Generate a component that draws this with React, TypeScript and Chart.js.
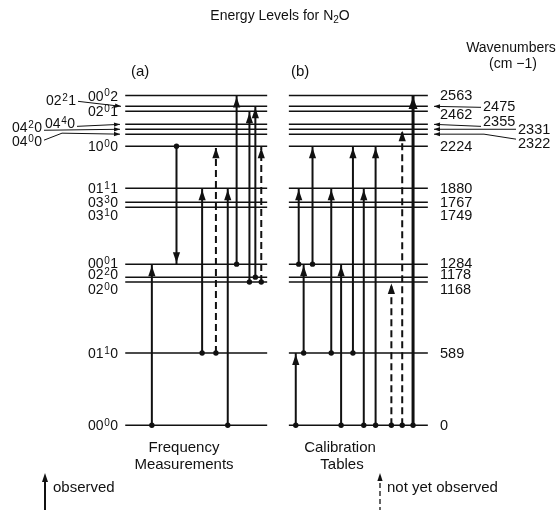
import React, { useEffect, useRef } from "react";
import { Chart, registerables } from "chart.js";
Chart.register(...registerables);

// ---------------- data ----------------
const levelEnergies = [0, 589, 1168, 1178, 1284, 1749, 1767, 1880, 2224, 2322, 2331, 2355, 2462, 2475, 2563];
// vibrational state codes v1 v2 l v3 (3rd char is written as superscript)
const levelCodes = ["0000", "0110", "0200", "0220", "0001", "0310", "0330", "0111", "1000", "0400", "0420", "0440", "0201", "0221", "0002"];
const levelTickLabels = ["0", "589", "1168", "1178", "1284", "1749", "1767", "1880", "2224", "2322", "2331", "2355", "2462", "2475", "2563"];

// (a) Frequency Measurements
const freqFrom = [0, 2224, 589, 589, 0, 1284, 1168, 1178, 1168];
const freqTo = [1284, 1284, 1880, 2224, 1880, 2563, 2462, 2475, 2224];
const freqObserved = [true, true, true, false, true, true, true, true, false];

// (b) Calibration Tables
const calFrom = [0, 1284, 589, 1284, 589, 0, 589, 0, 0, 0, 0, 0];
const calTo = [589, 1880, 1284, 2224, 1880, 1284, 2224, 1880, 2224, 1168, 2331, 2563];
const calObserved = [true, true, true, true, true, true, true, true, true, false, false, true];

const titleMain = "Energy Levels for N";
const titleSub = "2";
const titleEnd = "O";
const unitTitle = "Wavenumbers";
const unitText = "(cm \u22121)";
const panelLabels = ["(a)", "(b)"];
const captionA = ["Frequency", "Measurements"];
const captionB = ["Calibration", "Tables"];
const legendObserved = "observed";
const legendNotYet = "not yet observed";

// ---------------- layout ----------------
const W = 559;
const H = 510;
const PANEL_A: [number, number] = [123, 267];
const PANEL_B: [number, number] = [289, 430];
const freqX = [150, 175, 201, 215, 227, 236, 249, 255, 261];
const calX = [296, 299, 304, 313, 332, 342, 354, 365, 377, 393, 404, 415];
const calThick = [false, false, false, false, false, false, false, false, false, false, false, true];
const MIN_GAP = 40; // minimum drawn separation between neighbouring levels (cm-1)
const Y_BOTTOM_PX = 428;
const Y_TOP_PX = 93;

const leftLabelX = [118, 118, 118, 118, 118, 118, 118, 118, 118, 42, 42, 75, 118, 76, 118];
const leftLabelDy = [0, 0, 7, -3, -1, 8, 0, 0, 0, 7, -2, -1, 0, -6, 0];
const rightLabelX = [440, 440, 440, 440, 440, 440, 440, 440, 440, 518, 518, 483, 440, 483, 440];
const rightLabelDy = [0, 0, 7, -3, -1, 8, 0, 0, 0, 9, 0, -3, 3, 0, 0];

const FONT = '"Liberation Sans", Arial, Helvetica, sans-serif';
const INK = "#111";

// warp: keep energy order, but enforce a minimum drawn spacing so close levels stay visible
function buildWarp(levels: number[]) {
  const sorted = [...levels].sort((a, b) => a - b);
  const map = new Map<number, number>();
  let u = sorted[0];
  map.set(sorted[0], u);
  for (let i = 1; i < sorted.length; i++) {
    u += Math.max(sorted[i] - sorted[i - 1], MIN_GAP);
    map.set(sorted[i], u);
  }
  return { f: (e: number) => map.get(e) as number, max: u };
}

function drawCode(ctx: CanvasRenderingContext2D, code: string, x: number, y: number, align: "left" | "right") {
  const big = `14px ${FONT}`;
  const small = `10px ${FONT}`;
  const a = code.slice(0, 2);
  const s = code[2];
  const b = code[3];
  ctx.font = big;
  const wa = ctx.measureText(a).width;
  const wb = ctx.measureText(b).width;
  ctx.font = small;
  const ws = ctx.measureText(s).width;
  const total = wa + ws + wb + 1;
  const x0 = align === "right" ? x - total : x;
  ctx.textAlign = "left";
  ctx.textBaseline = "alphabetic";
  ctx.font = big;
  ctx.fillText(a, x0, y + 5);
  ctx.font = small;
  ctx.fillText(s, x0 + wa + 0.5, y + 0.5);
  ctx.font = big;
  ctx.fillText(b, x0 + wa + ws + 1, y + 5);
}

function arrowHead(ctx: CanvasRenderingContext2D, fx: number, fy: number, tx: number, ty: number, len: number, half: number) {
  const dx = tx - fx;
  const dy = ty - fy;
  const d = Math.hypot(dx, dy) || 1;
  const ux = dx / d;
  const uy = dy / d;
  const bx = tx - ux * len;
  const by = ty - uy * len;
  ctx.beginPath();
  ctx.moveTo(tx, ty);
  ctx.lineTo(bx - uy * half, by + ux * half);
  ctx.lineTo(bx + uy * half, by - ux * half);
  ctx.closePath();
  ctx.fill();
}

function leader(ctx: CanvasRenderingContext2D, pts: [number, number][], head = true) {
  ctx.save();
  ctx.setLineDash([]);
  ctx.lineWidth = 1;
  ctx.strokeStyle = INK;
  ctx.fillStyle = INK;
  ctx.beginPath();
  ctx.moveTo(pts[0][0], pts[0][1]);
  for (let i = 1; i < pts.length; i++) ctx.lineTo(pts[i][0], pts[i][1]);
  ctx.stroke();
  if (head) {
    const n = pts.length;
    arrowHead(ctx, pts[n - 2][0], pts[n - 2][1], pts[n - 1][0], pts[n - 1][1], 6, 2.2);
  }
  ctx.restore();
}

export default function App() {
  const ref = useRef<HTMLCanvasElement | null>(null);

  useEffect(() => {
    if (!ref.current) return;
    const warp = buildWarp(levelEnergies);
    const k = (Y_BOTTOM_PX - Y_TOP_PX) / warp.max;
    const yMin = -(H - Y_BOTTOM_PX) / k;
    const yMax = warp.max + Y_TOP_PX / k;

    const datasets: any[] = [];
    levelEnergies.forEach((e) => {
      const u = warp.f(e);
      datasets.push({
        data: [
          { x: PANEL_A[0], y: u },
          { x: PANEL_A[1], y: u },
          { x: (PANEL_A[1] + PANEL_B[0]) / 2, y: null },
          { x: PANEL_B[0], y: u },
          { x: PANEL_B[1], y: u },
        ],
        borderColor: INK,
        borderWidth: 1.5,
        pointRadius: 0,
        spanGaps: false,
        clip: false,
      });
    });
    const addArrows = (from: number[], to: number[], obs: boolean[], xs: number[], thick?: boolean[]) => {
      from.forEach((f, i) => {
        const t = to[i];
        const isThick = thick ? thick[i] : false;
        datasets.push({
          data: [
            { x: xs[i], y: warp.f(f) },
            { x: xs[i], y: warp.f(t) },
          ],
          borderColor: INK,
          borderWidth: isThick ? 3 : 2,
          borderDash: obs[i] ? [] : [7, 4],
          pointRadius: [2.7, 0],
          pointBorderWidth: 0,
          pointBackgroundColor: INK,
          clip: false,
          arrowHead: true,
          arrowThick: isThick,
        });
      });
    };
    addArrows(freqFrom, freqTo, freqObserved, freqX);
    addArrows(calFrom, calTo, calObserved, calX, calThick);

    const decorations = {
      id: "decorations",
      afterDatasetsDraw(chart: any) {
        const ctx: CanvasRenderingContext2D = chart.ctx;
        const ys = chart.scales.y;
        const yOf = (e: number) => ys.getPixelForValue(warp.f(e));
        ctx.save();
        ctx.fillStyle = INK;
        ctx.strokeStyle = INK;

        // arrow heads
        chart.data.datasets.forEach((ds: any, i: number) => {
          if (!ds.arrowHead) return;
          const meta = chart.getDatasetMeta(i);
          const p0 = meta.data[0];
          const p1 = meta.data[1];
          const dir = p1.y < p0.y ? -1 : 1;
          const tipY = p1.y - dir * 1.5;
          const len = ds.arrowThick ? 12 : 10.5;
          const half = ds.arrowThick ? 4.5 : 3.6;
          arrowHead(ctx, p1.x, p0.y, p1.x, tipY, len, half);
        });

        // title
        ctx.textBaseline = "alphabetic";
        ctx.font = `14px ${FONT}`;
        const wMain = ctx.measureText(titleMain).width;
        const wEnd = ctx.measureText(titleEnd).width;
        ctx.font = `10px ${FONT}`;
        const wSub = ctx.measureText(titleSub).width;
        let tx = 280 - (wMain + wSub + wEnd) / 2;
        ctx.textAlign = "left";
        ctx.font = `14px ${FONT}`;
        ctx.fillText(titleMain, tx, 20);
        ctx.font = `10px ${FONT}`;
        ctx.fillText(titleSub, tx + wMain, 23);
        ctx.font = `14px ${FONT}`;
        ctx.fillText(titleEnd, tx + wMain + wSub, 20);

        // units
        ctx.textAlign = "center";
        ctx.font = `14px ${FONT}`;
        ctx.fillText(unitTitle, 511, 52);
        ctx.fillText(unitText, 513, 68);

        // panel labels
        ctx.textAlign = "left";
        ctx.font = `15px ${FONT}`;
        ctx.fillText(panelLabels[0], 131, 76);
        ctx.fillText(panelLabels[1], 291, 76);

        // left state labels
        levelEnergies.forEach((e, i) => {
          const y = yOf(e) + leftLabelDy[i];
          drawCode(ctx, levelCodes[i], leftLabelX[i], y, "right");
        });
        // right wavenumber labels
        ctx.font = `14.5px ${FONT}`;
        ctx.textAlign = "left";
        ctx.textBaseline = "middle";
        levelEnergies.forEach((e, i) => {
          const y = yOf(e) + rightLabelDy[i];
          ctx.fillText(levelTickLabels[i], rightLabelX[i], y + 0.5);
        });

        // leaders, left side
        const iOf = (e: number) => levelEnergies.indexOf(e);
        const lY = (e: number) => yOf(e) + leftLabelDy[iOf(e)];
        leader(ctx, [[78, lY(2475) + 1], [121, yOf(2475)]]);
        leader(ctx, [[77, lY(2355) + 3], [120, yOf(2355)]]);
        leader(ctx, [[44, lY(2331) + 3], [120, yOf(2331)]]);
        leader(ctx, [[44, lY(2322) - 1], [62, yOf(2322) - 1], [120, yOf(2322)]]);
        // leaders, right side
        const rY = (e: number) => yOf(e) + rightLabelDy[iOf(e)];
        leader(ctx, [[481, rY(2475) + 1], [434, yOf(2475)]]);
        leader(ctx, [[481, rY(2355) + 5], [434, yOf(2355)]]);
        leader(ctx, [[516, rY(2331)], [434, yOf(2331)]]);
        leader(ctx, [[516, rY(2322) - 4], [484, yOf(2322)], [434, yOf(2322)]]);

        // captions
        ctx.textAlign = "center";
        ctx.textBaseline = "middle";
        ctx.font = `15px ${FONT}`;
        ctx.fillText(captionA[0], 184, 448);
        ctx.fillText(captionA[1], 184, 465);
        ctx.fillText(captionB[0], 340, 448);
        ctx.fillText(captionB[1], 342, 465);

        // legend
        ctx.lineWidth = 2;
        ctx.setLineDash([]);
        ctx.beginPath();
        ctx.moveTo(45, 512);
        ctx.lineTo(45, 480);
        ctx.stroke();
        arrowHead(ctx, 45, 512, 45, 473, 9, 3);
        ctx.lineWidth = 1.3;
        ctx.setLineDash([5, 3]);
        ctx.beginPath();
        ctx.moveTo(380, 512);
        ctx.lineTo(380, 480);
        ctx.stroke();
        ctx.setLineDash([]);
        arrowHead(ctx, 380, 512, 380, 473, 8, 2.6);
        ctx.textAlign = "left";
        ctx.font = `15px ${FONT}`;
        ctx.fillText(legendObserved, 53, 488);
        ctx.fillText(legendNotYet, 387, 488);
        ctx.restore();
      },
    };

    const chart = new Chart(ref.current, {
      type: "line",
      data: { datasets },
      options: {
        responsive: false,
        maintainAspectRatio: false,
        animation: false,
        events: [],
        layout: { padding: 0 },
        plugins: { legend: { display: false }, tooltip: { enabled: false }, title: { display: false } },
        scales: {
          x: { type: "linear", display: false, min: 0, max: W },
          y: { type: "linear", display: false, min: yMin, max: yMax },
        },
      },
      plugins: [decorations],
    } as any);
    return () => chart.destroy();
  }, []);

  return (
    <div style={{ position: "fixed", left: 0, top: 0, width: W, height: H, background: "#fff" }}>
      <canvas ref={ref} width={W} height={H} style={{ display: "block", width: W, height: H }} />
    </div>
  );
}
